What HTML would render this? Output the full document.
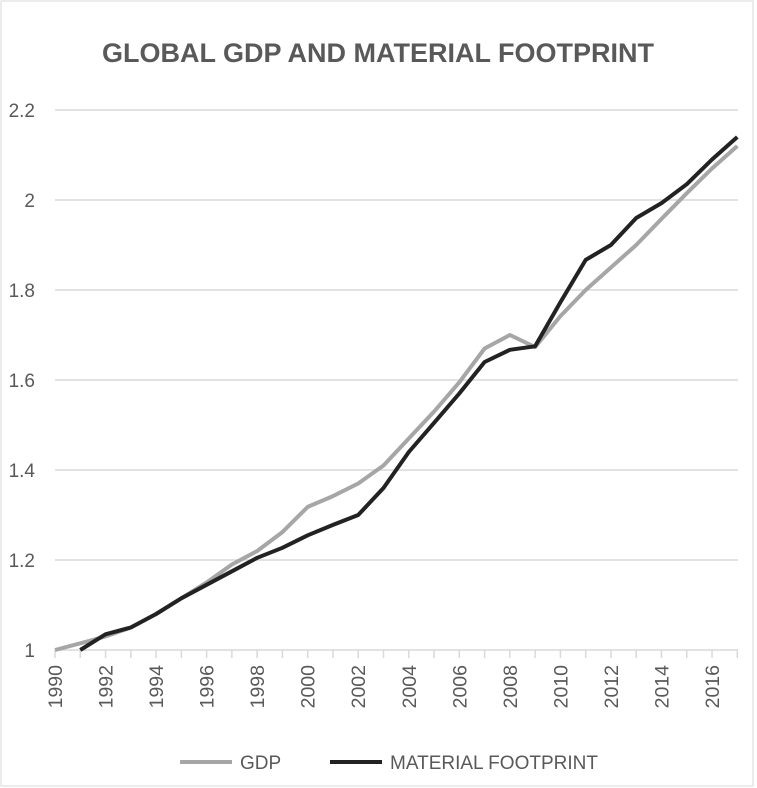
<!DOCTYPE html>
<html><head><meta charset="utf-8"><style>
body{margin:0;background:#fff;width:757px;height:788px;overflow:hidden}
svg{display:block;font-family:"Liberation Sans",sans-serif}
</style></head><body>
<svg id="c" width="757" height="788">
<rect x="1" y="1" width="752" height="785" fill="#fff" stroke="#d9d9d9"/>
<text x="378" y="62" text-anchor="middle" font-size="27" font-weight="bold" fill="#595959">GLOBAL GDP AND MATERIAL FOOTPRINT</text>
<g id="grid"></g><g id="xaxis"></g><g id="series"></g>
<g>
<line x1="180" y1="762" x2="232" y2="762" stroke="#a6a6a6" stroke-width="4"/>
<text x="240" y="769" font-size="19" fill="#595959">GDP</text>
<line x1="330" y1="762" x2="382" y2="762" stroke="#222" stroke-width="4"/>
<text x="390" y="769" font-size="19" fill="#595959">MATERIAL FOOTPRINT</text>
</g>
</svg>
<script>
const years=[1990,1991,1992,1993,1994,1995,1996,1997,1998,1999,2000,2001,2002,2003,2004,2005,2006,2007,2008,2009,2010,2011,2012,2013,2014,2015,2016,2017];
const gdp=[1.0,1.015,1.03,1.05,1.08,1.115,1.15,1.19,1.22,1.262,1.318,1.342,1.37,1.41,1.47,1.53,1.595,1.67,1.70,1.673,1.742,1.80,1.85,1.90,1.958,2.015,2.07,2.12];
const mf=[null,1.0,1.035,1.05,1.08,1.115,1.145,1.175,1.205,1.227,1.255,1.278,1.30,1.36,1.44,1.505,1.57,1.64,1.667,1.675,1.773,1.867,1.90,1.96,1.993,2.035,2.09,2.14];
const yTicks=[1,1.2,1.4,1.6,1.8,2,2.2];
const yTickLabels=["1","1.2","1.4","1.6","1.8","2","2.2"];
const xTickLabels=["1990","1992","1994","1996","1998","2000","2002","2004","2006","2008","2010","2012","2014","2016"];
const NS="http://www.w3.org/2000/svg";
const x=v=>55+25.27*(v-1990);
const y=v=>650-450*(v-1);
function mk(t,a,p){const e=document.createElementNS(NS,t);for(const k in a)e.setAttribute(k,a[k]);p.appendChild(e);return e;}
const grid=document.getElementById('grid');
yTicks.forEach((t,i)=>{
 const l=mk('line',{x1:55,x2:738,y1:y(t),y2:y(t),stroke:'#d9d9d9','stroke-width':1.5},grid);
 
 
 const tx=mk('text',{x:35,y:y(t)+7,'text-anchor':'end','font-size':19,fill:'#595959'},grid);
 tx.textContent=yTickLabels[i];
 
 
});
const xa=document.getElementById('xaxis');
for(let yr=1990;yr<=2017;yr++){
 const tk=mk('line',{x1:x(yr),x2:x(yr),y1:650,y2:658,stroke:'#d9d9d9','stroke-width':1.5},xa);
 
 
}
xTickLabels.forEach(s=>{
 const yr=+s;
 const t=mk('text',{transform:`translate(${x(yr)+7},665) rotate(-90)`,'text-anchor':'end','font-size':19.5,fill:'#595959'},xa);
 t.textContent=s;
 
 
});
const se=document.getElementById('series');
function path(vals,col,name){
 let d='';vals.forEach((v,i)=>{if(v==null)return;d+=(d?'L':'M')+x(years[i]).toFixed(1)+','+y(v).toFixed(1);});
 const p=mk('path',{d:d,fill:'none',stroke:col,'stroke-width':4,'stroke-linejoin':'round'},se);
 
 
}
path(gdp,'#a6a6a6','gdp-line');
path(mf,'#222','material-footprint-line');
</script>
</body></html>
